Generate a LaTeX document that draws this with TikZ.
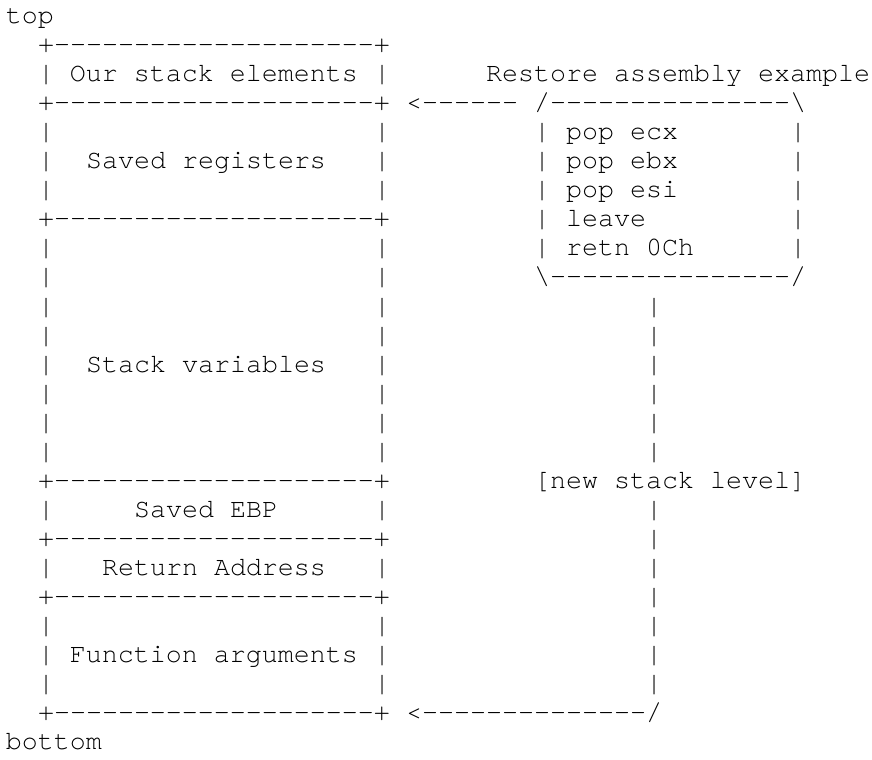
\documentclass[tikz,border=0pt]{standalone}
\usepackage{fontspec}
\setmonofont{TeX Gyre Cursor}
\usepackage{tikz}

\begin{document}
\begin{tikzpicture}[x=12pt,y=-21.79pt,ascii/.style={anchor=base west,inner sep=0pt,outer sep=0pt,font=\ttfamily\fontsize{20}{20}\selectfont}]
\useasboundingbox (-4.5pt,17.6pt) rectangle (649.5pt,-552.4pt);

% stack frame
\node[ascii] (top) at (0,0) {top};
\foreach \r in {1,3,7,16,18,20,24}
  \node[ascii] (sep-\r) at (2,\r) {+--------------------+};
\foreach \r in {2,4,5,6,8,9,10,11,12,13,14,15,17,19,21,22,23} {
  \node[ascii] (lbar-\r) at (2,\r) {|};
  \node[ascii] (rbar-\r) at (23,\r) {|};
}
\node[ascii] (ours) at (4,2) {Our stack elements};
\node[ascii] (regs) at (5,5) {Saved registers};
\node[ascii] (vars) at (5,12) {Stack variables};
\node[ascii] (ebp) at (8,17) {Saved EBP};
\node[ascii] (ret) at (6,19) {Return Address};
\node[ascii] (args) at (4,22) {Function arguments};
\node[ascii] (bottom) at (0,25) {bottom};

% restore code
\node[ascii] (title) at (30,2) {Restore assembly example};
\node[ascii] (arrtop) at (25,3) {<------};
\node[ascii] (codetop) at (33,3) {/---------------\textbackslash};
\foreach \r/\instr in {4/pop ecx,5/pop ebx,6/pop esi,7/leave,8/retn 0Ch} {
  \node[ascii] (cl-\r) at (33,\r) {|};
  \node[ascii] (code-\r) at (35,\r) {\instr};
  \node[ascii] (cr-\r) at (49,\r) {|};
}
\node[ascii] (codebot) at (33,9) {\textbackslash---------------/};

% new stack level
\foreach \r in {10,11,12,13,14,15,17,18,19,20,21,22,23}
  \node[ascii] (link-\r) at (40,\r) {|};
\node[ascii] (level) at (33,16) {[new stack level]};
\node[ascii] (arrbot) at (25,24) {<--------------/};
\end{tikzpicture}
\end{document}
